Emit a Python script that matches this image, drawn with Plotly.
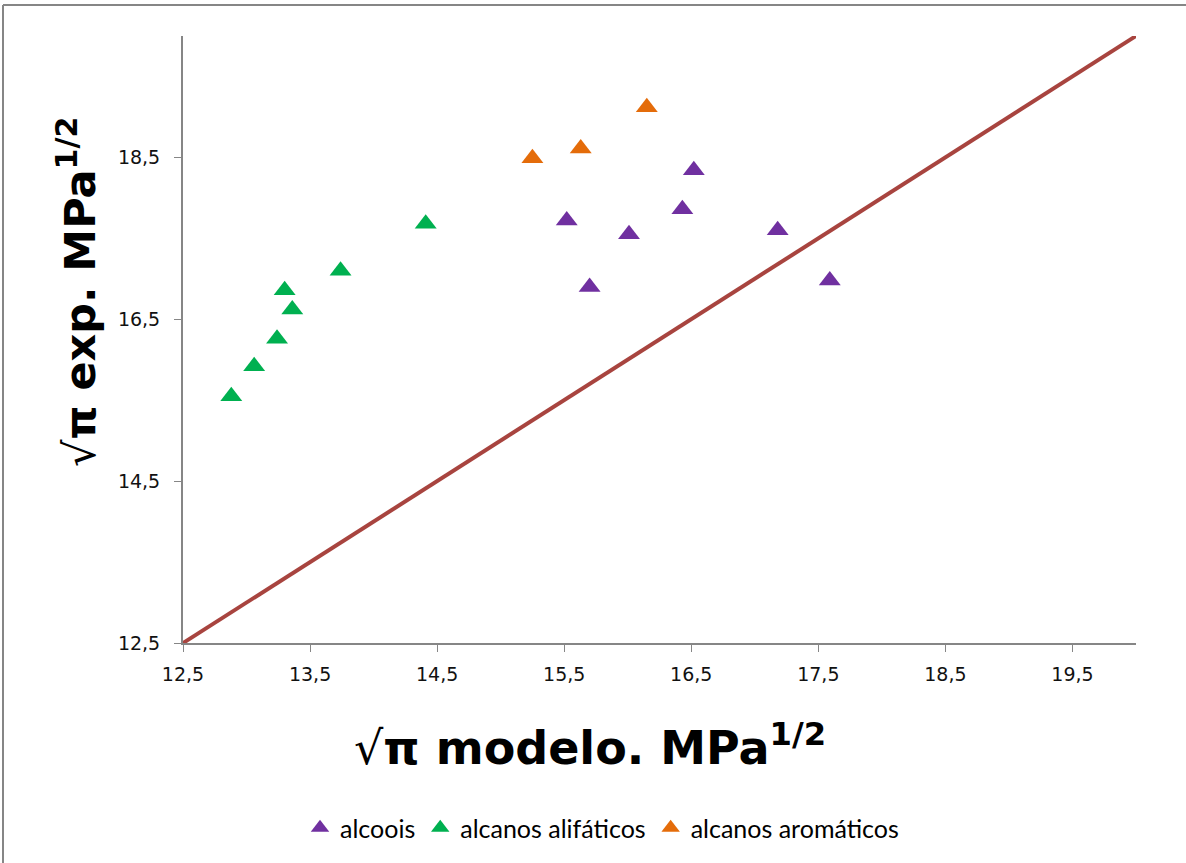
import plotly.graph_objects as go

# Square-root internal pressure: model prediction (x) vs experimental value (y), MPa^1/2
alcoois_x = [15.70, 15.52, 16.01, 16.43, 16.52, 17.18, 17.59]
alcoois_y = [16.90, 17.72, 17.55, 17.86, 18.34, 17.60, 16.98]

alifaticos_x = [12.88, 13.06, 13.24, 13.30, 13.36, 13.74, 14.41]
alifaticos_y = [15.55, 15.92, 16.26, 16.86, 16.62, 17.10, 17.68]

aromaticos_x = [15.25, 15.63, 16.15]
aromaticos_y = [18.49, 18.61, 19.12]

# y = x reference line spanning the axis range
diag = [12.5, 20.0]

x_ticks = [12.5, 13.5, 14.5, 15.5, 16.5, 17.5, 18.5, 19.5]
y_ticks = [12.5, 14.5, 16.5, 18.5]

W, H = 1186, 863
L, R, T, B = 183, 50, 36, 220
plot_w = W - L - R
plot_h = H - T - B


def px_x(px):
    return (px - L) / plot_w


def px_y(py):
    return (H - B - py) / plot_h


fig = go.Figure()

fig.add_trace(go.Scatter(
    x=diag, y=diag, mode="lines",
    line=dict(color="#A8443F", width=4),
    showlegend=False, hoverinfo="skip",
))

series = [
    ("alcoois", alcoois_x, alcoois_y, "#7030A0"),
    ("alcanos alifáticos", alifaticos_x, alifaticos_y, "#00B050"),
    ("alcanos aromáticos", aromaticos_x, aromaticos_y, "#E46C0A"),
]
for name, xs, ys, color in series:
    fig.add_trace(go.Scatter(
        x=xs, y=ys, mode="markers", name=name,
        marker=dict(symbol="triangle-up", size=19, color=color, line=dict(width=0)),
    ))

axis_common = dict(
    showline=True, linecolor="#868686", linewidth=2,
    ticks="outside", tickcolor="#868686", ticklen=7, tickwidth=1,
    showgrid=False, zeroline=False, tickformat=".1f",
    tickfont=dict(family="DejaVu Sans", size=19, color="#111111"),
)

fig.update_xaxes(range=[12.5, 20.0], tickvals=x_ticks, ticklabelstandoff=6, **axis_common)
fig.update_yaxes(range=[12.5, 20.0], tickvals=y_ticks, ticklabelstandoff=10, **axis_common)

fig.add_annotation(
    text="√<b>π modelo. MPa<sup>1/2</sup></b>", xref="paper", yref="paper",
    x=px_x(590), y=px_y(745), xanchor="center", yanchor="middle",
    showarrow=False, font=dict(family="DejaVu Sans", size=46, color="#000000"),
)
fig.add_annotation(
    text="√<b>π exp. MPa<sup>1/2</sup></b>", xref="paper", yref="paper",
    x=px_x(77), y=px_y(292), xanchor="center", yanchor="middle",
    textangle=-90, showarrow=False,
    font=dict(family="DejaVu Sans", size=43, color="#000000"),
)

# outer chart-area frame (top and left edges)
frame = dict(color="#868686", width=2)
fig.add_shape(type="line", xref="paper", yref="paper",
              x0=px_x(3), x1=px_x(W), y0=px_y(5), y1=px_y(5), line=frame)
fig.add_shape(type="line", xref="paper", yref="paper",
              x0=px_x(3), x1=px_x(3), y0=px_y(5), y1=px_y(H), line=frame)

fig.update_layout(
    width=W, height=H,
    margin=dict(l=L, r=R, t=T, b=B),
    paper_bgcolor="white", plot_bgcolor="white",
    separators=",.",
    legend=dict(
        orientation="h", x=px_x(602), y=px_y(828),
        xanchor="center", yanchor="middle",
        font=dict(family="Lato", size=25, color="#000000"),
        itemwidth=30, tracegroupgap=0,
    ),
)

fig.write_html("out.html")
